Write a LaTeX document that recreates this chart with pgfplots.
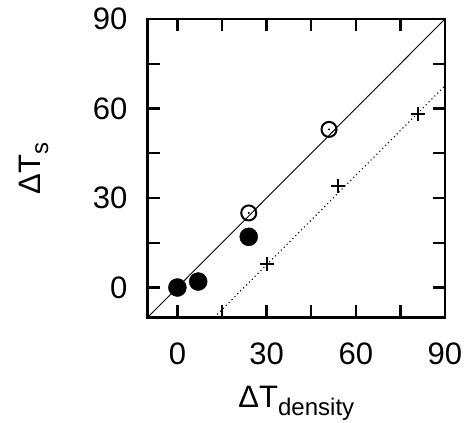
\documentclass[border=0pt]{standalone}
\usepackage{pgfplots}
\pgfplotsset{compat=1.18}
\usepackage{fontspec}
\setmainfont{Liberation Sans}
\begin{document}
\begin{tikzpicture}
\begin{axis}[
 scale only axis, width=297pt, height=298pt,
 xmin=-10,xmax=90,ymin=-10,ymax=90,
 xtick={0,30,60,90}, ytick={0,30,60,90},
 minor xtick={15,45,75}, minor ytick={15,45,75},
 tick align=inside, major tick length=12pt, minor tick length=12pt,
 every tick/.style={black, line width=2.3pt},
 axis line style={line width=2.6pt},
 tick label style={font=\fontsize{31}{34}\selectfont},
 label style={font=\fontsize{31}{34}\selectfont},
 /pgf/number format/assume math mode=true,
 yticklabel style={anchor=east, inner sep=0pt, xshift=-20pt},
 xticklabel style={anchor=north, inner sep=0pt, yshift=-25pt},
 xlabel={ΔT\raisebox{-8pt}{\fontsize{24}{26}\selectfont density}},
 ylabel={ΔT\raisebox{-8pt}{\fontsize{24}{26}\selectfont s}},
 xlabel style={at={(axis description cs:0.5,-0.302)}, anchor=base, inner sep=0pt},
 ylabel style={at={(axis description cs:-0.362,0.5)}, anchor=base, inner sep=0pt},
]
\addplot[black, line width=0.9pt, no marks] coordinates {(-10,-10) (90,90)};
\addplot[black, line width=1.1pt, dash pattern=on 1.1pt off 3pt, no marks] coordinates {(12.4,-10) (90,67.6)};
\addplot[only marks, mark=*, mark size=9pt, black] coordinates {(0,0) (7,2) (24,17)};
\addplot[only marks, mark=o, mark size=7.5pt, black, line width=2pt] coordinates {(24,25) (51,53)};
\addplot[only marks, mark=*, mark size=0.8pt, black] coordinates {(24,25) (51,53)};
\addplot[only marks, mark=+, mark size=7pt, black, line width=2pt] coordinates {(30,8) (54,34) (81,58)};
\end{axis}
\pgfresetboundingbox
\path ([shift={(-147.5pt,-105pt)}]current axis.south west) rectangle ([shift={(28pt,19pt)}]current axis.north east);
\end{tikzpicture}
\end{document}
